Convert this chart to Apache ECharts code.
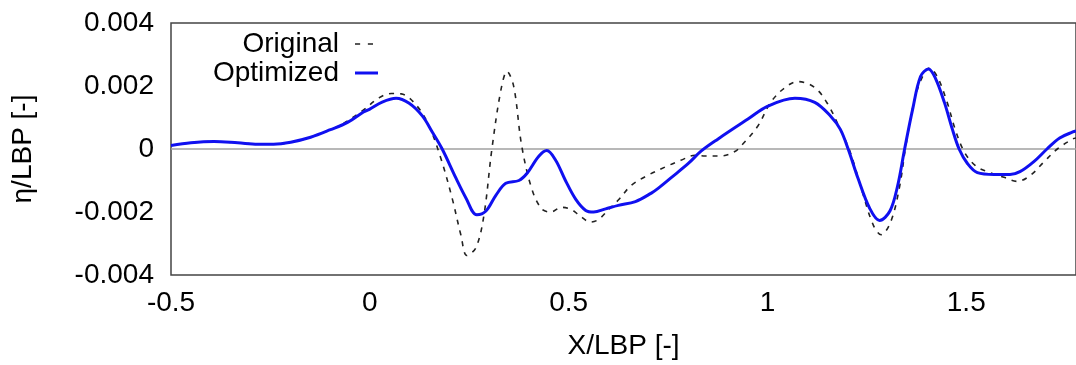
<!DOCTYPE html>
<html>
<head>
<meta charset="utf-8">
<script src="https://cdn.jsdelivr.net/npm/echarts@6/dist/echarts.min.js"></script>
<style>
  html, body { margin: 0; padding: 0; background: #fff; }
  #chart { width: 1076px; height: 365px; }
</style>
</head>
<body>
<div id="chart"></div>
<script>
// x positions and heights (X/LBP, eta/LBP)
const optimizedX = [-0.5, -0.45, -0.392, -0.332, -0.282, -0.242, -0.199, -0.149, -0.099, -0.056, -0.016, -0.001, 0.031, 0.066, 0.099, 0.132, 0.157, 0.182, 0.217, 0.242, 0.269, 0.292, 0.317, 0.342, 0.375, 0.395, 0.425, 0.445, 0.467, 0.492, 0.518, 0.543, 0.563, 0.593, 0.625, 0.668, 0.708, 0.725, 0.758, 0.801, 0.833, 0.876, 0.951, 1.001, 1.069, 1.119, 1.159, 1.183, 1.203, 1.228, 1.257, 1.282, 1.308, 1.327, 1.345, 1.365, 1.385, 1.405, 1.422, 1.445, 1.465, 1.482, 1.503, 1.528, 1.57, 1.61, 1.635, 1.67, 1.703, 1.735, 1.768, 1.776];
const optimizedY = [0.00011, 0.000195, 0.000235, 0.000195, 0.000154, 0.000154, 0.000216, 0.000373, 0.000612, 0.000844, 0.001176, 0.00126, 0.00149, 0.00161, 0.00145, 0.00105, 0.00054, 0.0, -0.000935, -0.00156, -0.00209, -0.00197, -0.00147, -0.00109, -0.001, -0.00078, -0.00023, -0.00005, -0.00035, -0.001, -0.0016, -0.00195, -0.002, -0.0019, -0.00179, -0.00167, -0.0014, -0.00125, -0.00091, -0.00046, -0.00007, 0.00032, 0.00095, 0.00136, 0.00161, 0.00148, 0.00104, 0.00063, 0.0, -0.00094, -0.00188, -0.00227, -0.00197, -0.00119, 0.0, 0.00125, 0.0023, 0.00254, 0.00226, 0.00148, 0.00063, 0.0, -0.00046, -0.00075, -0.00081, -0.00081, -0.00072, -0.0004, 0.0, 0.00035, 0.00054, 0.00057];

const originalX = [-0.5, -0.45, -0.392, -0.332, -0.282, -0.242, -0.199, -0.149, -0.099, -0.069, -0.019, 0.024, 0.054, 0.079, 0.119, 0.149, 0.179, 0.207, 0.229, 0.244, 0.267, 0.287, 0.307, 0.33, 0.345, 0.362, 0.382, 0.407, 0.432, 0.455, 0.482, 0.508, 0.53, 0.555, 0.575, 0.6, 0.625, 0.658, 0.7, 0.743, 0.782, 0.818, 0.843, 0.883, 0.918, 0.934, 0.976, 1.008, 1.044, 1.076, 1.119, 1.152, 1.183, 1.208, 1.236, 1.266, 1.286, 1.311, 1.333, 1.348, 1.37, 1.39, 1.407, 1.427, 1.452, 1.472, 1.495, 1.523, 1.553, 1.595, 1.628, 1.661, 1.696, 1.729, 1.768, 1.776];
const originalY = [0.00011, 0.000195, 0.000235, 0.000195, 0.000154, 0.000154, 0.000216, 0.000373, 0.000612, 0.00079, 0.00121, 0.00163, 0.00176, 0.00175, 0.00136, 0.00073, -0.00031, -0.00156, -0.00273, -0.00338, -0.00313, -0.0021, 0.0, 0.00189, 0.00246, 0.00198, 0.0001, -0.00125, -0.0019, -0.002, -0.00185, -0.00193, -0.00214, -0.00232, -0.00224, -0.00193, -0.00162, -0.00115, -0.00083, -0.00057, -0.00036, -0.0002, -0.00022, -0.00022, -0.00008, 0.0001, 0.00073, 0.00148, 0.00195, 0.00214, 0.00195, 0.00142, 0.00063, -0.00009, -0.00125, -0.00241, -0.00272, -0.00228, -0.00115, 0.0001, 0.00157, 0.0023, 0.00257, 0.0023, 0.00148, 0.00063, -0.00009, -0.00053, -0.00072, -0.0009, -0.00103, -0.00084, -0.0004, 0.0, 0.00032, 0.00035];

const xTicks = [-0.5, 0, 0.5, 1, 1.5];
const yTicks = [-0.004, -0.002, 0, 0.002, 0.004];

const pairs = (xs, ys) => xs.map((x, i) => [x, ys[i]]);

const font = 'Liberation Sans, Arial, Helvetica, sans-serif';
const fs = 28;
const chart = echarts.init(document.getElementById('chart'));

const legendBase = {
  orient: 'vertical',
  align: 'right',
  textStyle: { fontFamily: font, fontSize: fs, color: '#000', padding: [0, 11, 0, 0] },
  selectedMode: false,
};

chart.setOption({
  animation: false,
  backgroundColor: '#fff',
  grid: {
    left: 171,
    top: 23,
    right: -3,
    bottom: 87,
    show: true,
    borderColor: '#444',
    borderWidth: 1.5,
    backgroundColor: 'transparent',
  },
  legend: [
    Object.assign({}, legendBase, {
      top: 25,
      right: 698,
      itemWidth: 18,
      itemHeight: 1.6,
      data: [{ name: 'Original', icon: 'path://M0,0h4v1h-4zM10,0h4v1h-4z' }],
    }),
    Object.assign({}, legendBase, {
      top: 54,
      right: 693,
      itemWidth: 23,
      itemHeight: 3,
      data: [{ name: 'Optimized', icon: 'rect' }],
    }),
  ],
  xAxis: {
    type: 'value',
    min: -0.5,
    max: 1.776,
    interval: 0.5,
    name: 'X/LBP [-]',
    nameLocation: 'middle',
    nameGap: 57,
    nameTextStyle: { fontFamily: font, fontSize: fs, color: '#000' },
    axisLine: { show: false },
    axisTick: { show: false },
    splitLine: { show: false },
    axisLabel: {
      fontFamily: font,
      fontSize: fs,
      color: '#000',
      margin: 14,
      showMaxLabel: false,
      formatter: (v) => (xTicks.some((t) => Math.abs(t - v) < 1e-9) ? String(+v.toFixed(1)) : ''),
    },
  },
  yAxis: {
    type: 'value',
    min: -0.004,
    max: 0.004,
    interval: 0.002,
    name: 'η/LBP [-]',
    nameLocation: 'middle',
    nameGap: 134,
    nameRotate: 90,
    nameTextStyle: { fontFamily: font, fontSize: fs, color: '#000' },
    axisLine: { show: false },
    axisTick: { show: false },
    splitLine: { show: false },
    axisLabel: {
      fontFamily: font,
      fontSize: fs,
      color: '#000',
      margin: 17,
      formatter: (v) => {
        const t = yTicks.find((k) => Math.abs(k - v) < 1e-9);
        if (t === undefined) return '';
        return t === 0 ? '0' : t.toFixed(3);
      },
    },
  },
  series: [
    {
      name: 'Original',
      type: 'line',
      data: pairs(originalX, originalY),
      smooth: 0.35,
      showSymbol: false,
      symbol: 'none',
      color: '#222',
      lineStyle: { color: '#222', width: 1.6, type: [5, 6] },
      z: 3,
      markLine: {
        silent: true,
        symbol: ['none', 'none'],
        label: { show: false },
        lineStyle: { color: '#a0a0a0', type: 'solid', width: 1.5 },
        data: [{ yAxis: 0 }],
        z: 1,
      },
    },
    {
      name: 'Optimized',
      type: 'line',
      data: pairs(optimizedX, optimizedY),
      smooth: 0.35,
      showSymbol: false,
      symbol: 'none',
      color: '#1010f0',
      lineStyle: { color: '#1010f0', width: 3 },
      z: 4,
    },
  ],
});
</script>
</body>
</html>
